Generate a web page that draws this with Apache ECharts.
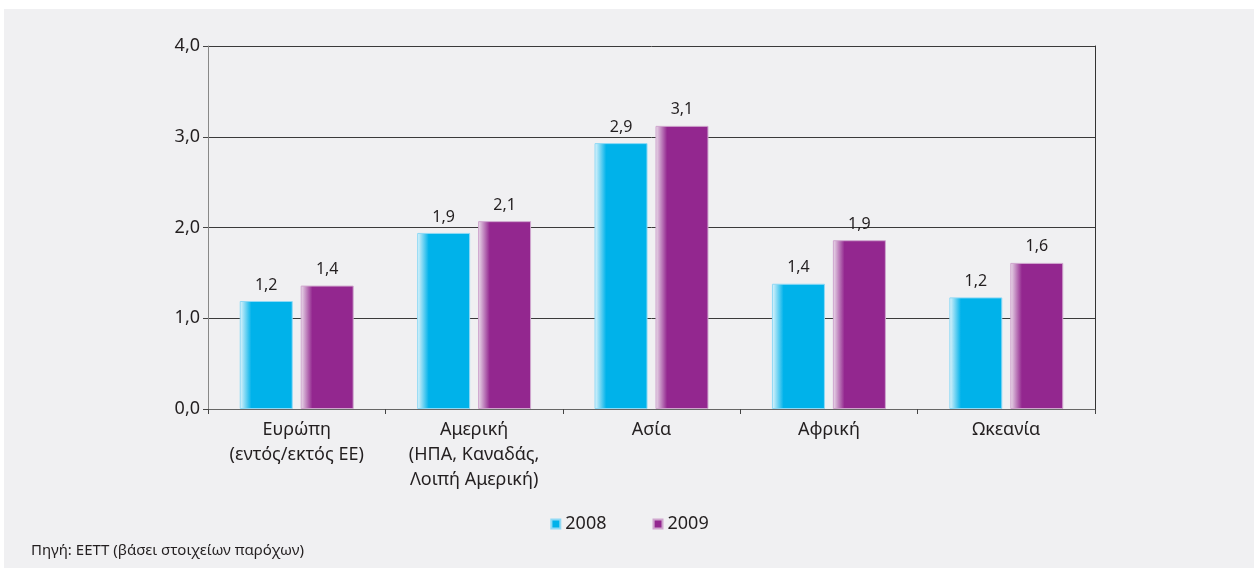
<!DOCTYPE html>
<html>
<head>
<meta charset="utf-8">
<script src="https://cdn.jsdelivr.net/npm/echarts@6/dist/echarts.min.js"></script>
<style>
html,body{margin:0;padding:0;background:#ffffff;}
#c{width:1259px;height:568px;}
</style>
</head>
<body>
<div id="c"></div>
<script>
const categories = ["Ευρώπη\n(εντός/εκτός ΕΕ)", "Αμερική\n(ΗΠΑ, Καναδάς,\nΛοιπή Αμερική)", "Ασία", "Αφρική", "Ωκεανία"];
const seriesNames = ["2008", "2009"];
const values2008 = [1.19, 1.94, 2.93, 1.38, 1.23];
const values2009 = [1.36, 2.07, 3.12, 1.86, 1.61];
const yTicks = [0, 1, 2, 3, 4];
const sourceText = "Πηγή: ΕΕΤΤ (βάσει στοιχείων παρόχων)";

const FONT = "Noto Sans";
const TXT = "#231f20";
function grad(light, col) {
  return new echarts.graphic.LinearGradient(0, 0, 1, 0, [
    {offset: 0, color: light},
    {offset: 0.22, color: col},
    {offset: 1, color: col}
  ]);
}
const fmt = v => Number(v).toFixed(1).replace('.', ',');

const chart = echarts.init(document.getElementById('c'), null, {renderer: 'canvas'});
chart.setOption({
  animation: false,
  backgroundColor: '#ffffff',
  graphic: [
    {type: 'rect', left: 4, top: 9, shape: {width: 1250, height: 559}, style: {fill: '#f0f0f2'}, z: -10, silent: true},
    {type: 'text', left: 31, top: 543, style: {text: sourceText, font: '15px "' + FONT + '"', fill: TXT}}
  ],
  grid: {left: 208, right: 164, top: 46, bottom: 159, containLabel: false},
  legend: {
    data: seriesNames,
    top: 510,
    left: 'center',
    itemWidth: 9,
    itemHeight: 9,
    itemGap: 46,
    icon: 'rect',
    textStyle: {fontFamily: FONT, fontSize: 18, color: TXT, padding: [0, 0, 0, 0]}
  },
  xAxis: {
    type: 'category',
    data: categories,
    boundaryGap: true,
    axisLine: {show: true, lineStyle: {color: '#666666', width: 1}},
    axisTick: {show: true, length: 5, lineStyle: {color: '#444444'}},
    axisLabel: {fontFamily: FONT, fontSize: 18, color: TXT, lineHeight: 25, margin: 8, interval: 0}
  },
  yAxis: [
    {
      type: 'value',
      min: 0, max: 4, interval: 1,
      axisLine: {show: true, lineStyle: {color: '#888888', width: 1}},
      axisTick: {show: true, length: 5, lineStyle: {color: '#444444'}},
      splitLine: {show: true, lineStyle: {color: '#3a3a3a', width: 1}},
      axisLabel: {fontFamily: FONT, fontSize: 18, color: TXT, margin: 8,
        formatter: v => yTicks.indexOf(v) >= 0 ? fmt(v) : ''}
    },
    {
      type: 'value', position: 'right',
      min: 0, max: 4, interval: 1,
      axisLine: {show: true, lineStyle: {color: '#333333', width: 1}},
      axisTick: {show: false},
      splitLine: {show: false},
      axisLabel: {show: false}
    }
  ],
  series: [
    {
      name: seriesNames[0], type: 'bar', data: values2008,
      barWidth: 53, barGap: '15%',
      itemStyle: {color: grad('#e6f6fc', '#00b2ea'), borderColor: '#8fd9f5', borderWidth: 1},
      label: {show: true, position: 'top', distance: 8, formatter: p => fmt(p.value),
        fontFamily: FONT, fontSize: 16, color: TXT}
    },
    {
      name: seriesNames[1], type: 'bar', data: values2009,
      barWidth: 53, barGap: '15%',
      itemStyle: {color: grad('#ece0ec', '#93278f'), borderColor: '#cfa6ce', borderWidth: 1},
      label: {show: true, position: 'top', distance: 8, formatter: p => fmt(p.value),
        fontFamily: FONT, fontSize: 16, color: TXT}
    }
  ]
});
</script>
</body>
</html>
